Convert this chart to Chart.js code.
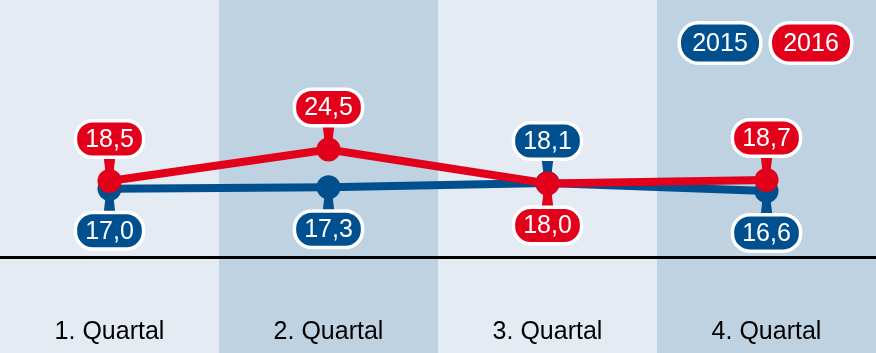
<!DOCTYPE html>
<html>
<head>
<meta charset="utf-8">
<script src="https://cdn.jsdelivr.net/npm/chart.js@4"></script>
<style>
  html, body { margin: 0; padding: 0; background: #e4ebf2; }
  #wrap { width: 876px; height: 353px; }
</style>
</head>
<body>
<div id="wrap"><canvas id="quartale"></canvas></div>
<script>
const quartale = ['1. Quartal', '2. Quartal', '3. Quartal', '4. Quartal'];
const werte2015 = [17.0, 17.3, 18.1, 16.6];
const werte2016 = [18.5, 24.5, 18.0, 18.7];
const jahre = ['2015', '2016'];

const blau = '#004f8e';
const rot = '#e2001a';
const hell = '#e4ebf2';
const dunkel = '#bfd2e1';
const schrift = '"Liberation Sans", Arial, sans-serif';

function zahl(v) {
  return v.toFixed(1).replace('.', ',');
}

// abgerundete Box mit weissem Rand
function pille(ctx, cx, cy, w, h, farbe, rand) {
  const r = h / 2 - 1;
  const x = cx - w / 2, y = cy - h / 2;
  ctx.beginPath();
  ctx.moveTo(x + r, y);
  ctx.lineTo(x + w - r, y);
  ctx.arcTo(x + w, y, x + w, y + r, r);
  ctx.lineTo(x + w, y + h - r);
  ctx.arcTo(x + w, y + h, x + w - r, y + h, r);
  ctx.lineTo(x + r, y + h);
  ctx.arcTo(x, y + h, x, y + h - r, r);
  ctx.lineTo(x, y + r);
  ctx.arcTo(x, y, x + r, y, r);
  ctx.closePath();
  ctx.lineWidth = rand;
  ctx.strokeStyle = '#fff';
  ctx.stroke();
  ctx.fillStyle = farbe;
  ctx.fill();
}

const streifen = {
  id: 'streifen',
  beforeDraw(chart) {
    const ctx = chart.ctx;
    const x = chart.scales.x;
    const schritt = chart.chartArea.width / quartale.length;
    ctx.save();
    quartale.forEach((q, i) => {
      const links = x.getPixelForValue(i) - schritt / 2;
      ctx.fillStyle = i % 2 === 0 ? hell : dunkel;
      ctx.fillRect(Math.round(links), 0, Math.ceil(schritt) + 1, chart.height);
    });
    ctx.restore();
  }
};

// oben oder unten: hoeherer Wert kommt nach oben
function lage(chart, ds, i) {
  const andere = chart.data.datasets[1 - ds].data[i];
  return chart.data.datasets[ds].data[i] >= andere ? -1 : 1;
}

const abstand = 42;
const hoehe = 33;

const zeiger = {
  id: 'zeiger',
  beforeDatasetsDraw(chart) {
    const ctx = chart.ctx;
    ctx.save();
    chart.data.datasets.forEach((ds, d) => {
      const meta = chart.getDatasetMeta(d);
      meta.data.forEach((p, i) => {
        const s = lage(chart, d, i);
        const rand = p.y + s * (abstand - hoehe / 2);
        ctx.beginPath();
        ctx.moveTo(p.x - 6, rand);
        ctx.lineTo(p.x + 6, rand);
        ctx.lineTo(p.x + 3, p.y);
        ctx.lineTo(p.x - 3, p.y);
        ctx.closePath();
        ctx.fillStyle = ds.borderColor;
        ctx.fill();
      });
    });
    ctx.restore();
  }
};

const etiketten = {
  id: 'etiketten',
  afterDatasetsDraw(chart) {
    const ctx = chart.ctx;
    ctx.save();
    ctx.font = '25px ' + schrift;
    ctx.textAlign = 'center';
    ctx.textBaseline = 'middle';
    chart.data.datasets.forEach((ds, d) => {
      const meta = chart.getDatasetMeta(d);
      meta.data.forEach((p, i) => {
        const s = lage(chart, d, i);
        const txt = zahl(ds.data[i]);
        const w = ctx.measureText(txt).width + 16;
        const cy = p.y + s * abstand;
        pille(ctx, p.x, cy, w, hoehe, ds.borderColor, 7);
        ctx.fillStyle = '#fff';
        ctx.fillText(txt, p.x, cy + 1);
      });
    });
    // Legende
    const mitten = [720, 811];
    chart.data.datasets.forEach((ds, d) => {
      pille(ctx, mitten[d], 43, 78, 37, ds.borderColor, 7);
      ctx.fillStyle = '#fff';
      ctx.fillText(ds.label, mitten[d], 44);
    });
    ctx.restore();
  }
};

new Chart(document.getElementById('quartale'), {
  type: 'line',
  data: {
    labels: quartale,
    datasets: [
      {
        label: jahre[0],
        data: werte2015,
        order: 1,
        borderColor: blau,
        backgroundColor: blau,
        borderWidth: 8,
        pointRadius: 12,
        pointBorderWidth: 0,
        tension: 0
      },
      {
        label: jahre[1],
        data: werte2016,
        order: 0,
        borderColor: rot,
        backgroundColor: rot,
        borderWidth: 8,
        pointRadius: 12,
        pointBorderWidth: 0,
        tension: 0
      }
    ]
  },
  options: {
    responsive: true,
    maintainAspectRatio: false,
    animation: false,
    events: [],
    layout: { autoPadding: false, padding: 0 },
    plugins: { legend: { display: false }, tooltip: { enabled: false } },
    scales: {
      x: {
        offset: true,
        grid: { display: false, drawTicks: false },
        border: { display: true, color: '#000', width: 3 },
        ticks: { padding: 60, maxRotation: 0, color: '#000', font: { size: 25, family: schrift } },
        afterFit(scale) {
          scale.paddingLeft = 0;
          scale.paddingRight = 0;
          scale.height = 96;
        }
      },
      y: {
        display: false,
        min: 4,
        max: 53
      }
    }
  },
  plugins: [streifen, zeiger, etiketten]
});
</script>
</body>
</html>
